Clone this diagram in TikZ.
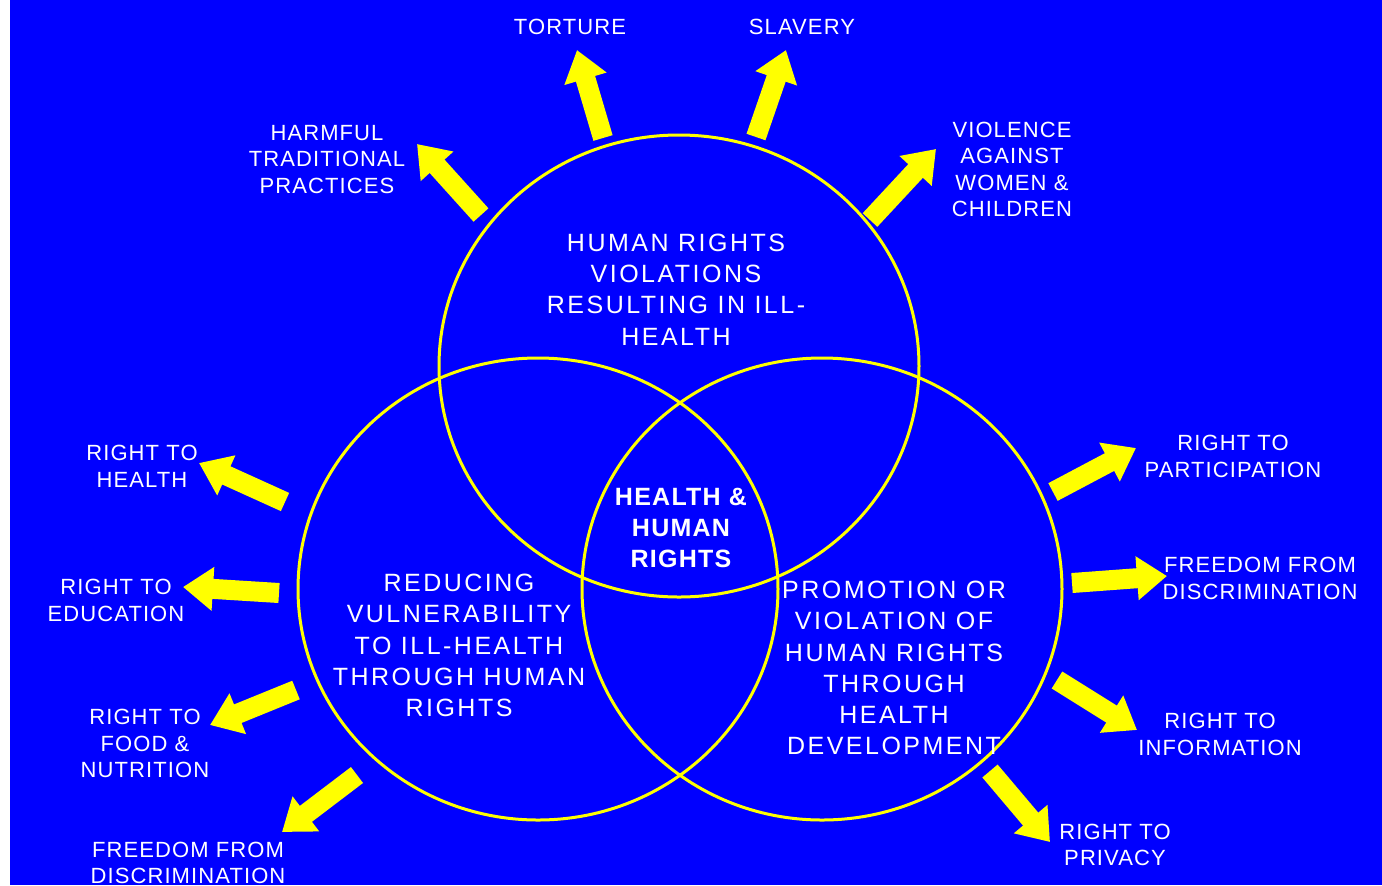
\documentclass[tikz,border=0pt]{standalone}
\usepackage{fontspec}
\setmainfont{Liberation Sans}[LetterSpace=5]
\usetikzlibrary{arrows.meta}

\definecolor{slideblue}{RGB}{0,0,255}
\definecolor{ringyellow}{RGB}{255,255,0}

\begin{document}
\begin{tikzpicture}[x=0.5pt,y=-0.5pt,
    ring/.style={draw=ringyellow,line width=1.5pt},
    tag/.style={text=white,align=center,inner sep=0pt,font=\fontsize{11}{13.3}\selectfont},
    ringtext/.style={text=white,align=center,inner sep=0pt,font=\fontsize{12.5}{15.6}\selectfont\addfontfeatures{LetterSpace=10}},
    push/.style={draw=ringyellow,line width=10pt,-{Triangle[length=15pt,width=21pt]}}]

    % background
    \fill[white] (0,0) rectangle (1382,885);
    \fill[slideblue] (10,0) rectangle (1382,885);
    \useasboundingbox (0,0) rectangle (1382,885);

    % the three circles
    \draw[ring] (679,366) ellipse [x radius=240, y radius=231];
    \draw[ring] (538,589) ellipse [x radius=240, y radius=231];
    \draw[ring] (822,589) ellipse [x radius=240, y radius=231];

    \node[ringtext] (viol) at (676,289.5) {HUMAN RIGHTS\\VIOLATIONS\\RESULTING IN ILL-\\HEALTH};
    \node[ringtext] (vuln) at (459,645.5) {REDUCING\\VULNERABILITY\\TO ILL-HEALTH\\THROUGH HUMAN\\RIGHTS};
    \node[ringtext] (prom) at (894,668) {PROMOTION OR\\VIOLATION OF\\HUMAN RIGHTS\\THROUGH\\HEALTH\\DEVELOPMENT};
    \node[ringtext,font=\fontsize{12.5}{15.6}\selectfont\bfseries] (core) at (681,528) {HEALTH \&\\HUMAN\\RIGHTS};

    % labels round the outside
    \node[tag] (torture) at (570,27) {TORTURE};
    \node[tag] (slavery) at (802,27) {SLAVERY};
    \node[tag] (harmful) at (327,159.5) {HARMFUL\\TRADITIONAL\\PRACTICES};
    \node[tag] (violence) at (1012,169.5) {VIOLENCE\\AGAINST\\WOMEN \&\\CHILDREN};
    \node[tag] (health) at (142,466.5) {RIGHT TO\\HEALTH};
    \node[tag] (education) at (116,600.5) {RIGHT TO\\EDUCATION};
    \node[tag] (food) at (145,743.5) {RIGHT TO\\FOOD \&\\NUTRITION};
    \node[tag] (freeleft) at (188,863) {FREEDOM FROM\\DISCRIMINATION};
    \node[tag] (participation) at (1233,456.5) {RIGHT TO\\PARTICIPATION};
    \node[tag] (freeright) at (1260,578.5) {FREEDOM FROM\\DISCRIMINATION};
    \node[tag] (information) at (1220,734.5) {RIGHT TO\\INFORMATION};
    \node[tag] (privacy) at (1115,845) {RIGHT TO\\PRIVACY};

    % arrow ends
    \coordinate (torture-t) at (603,138);  \coordinate (torture-h) at (577,50);
    \coordinate (slavery-t) at (756,137);  \coordinate (slavery-h) at (786,50);
    \coordinate (harmful-t) at (481,215);  \coordinate (harmful-h) at (417,144);
    \coordinate (violence-t) at (870,220); \coordinate (violence-h) at (936,149);
    \coordinate (health-t) at (285,502);   \coordinate (health-h) at (199,463);
    \coordinate (education-t) at (279,593); \coordinate (education-h) at (183,587);
    \coordinate (food-t) at (296,690);     \coordinate (food-h) at (210,725);
    \coordinate (freeleft-t) at (357,775); \coordinate (freeleft-h) at (282,832);
    \coordinate (participation-t) at (1053,492); \coordinate (participation-h) at (1136,448);
    \coordinate (freeright-t) at (1072,583); \coordinate (freeright-h) at (1167,576);
    \coordinate (information-t) at (1057,680); \coordinate (information-h) at (1137,730);
    \coordinate (privacy-t) at (990,771);  \coordinate (privacy-h) at (1050,842);

    \draw[push] (torture-t) -- (torture-h); \draw[push] (slavery-t) -- (slavery-h);
    \draw[push] (harmful-t) -- (harmful-h); \draw[push] (violence-t) -- (violence-h);
    \draw[push] (health-t) -- (health-h); \draw[push] (education-t) -- (education-h);
    \draw[push] (food-t) -- (food-h); \draw[push] (freeleft-t) -- (freeleft-h);
    \draw[push] (participation-t) -- (participation-h); \draw[push] (freeright-t) -- (freeright-h);
    \draw[push] (information-t) -- (information-h); \draw[push] (privacy-t) -- (privacy-h);
\end{tikzpicture}
\end{document}
